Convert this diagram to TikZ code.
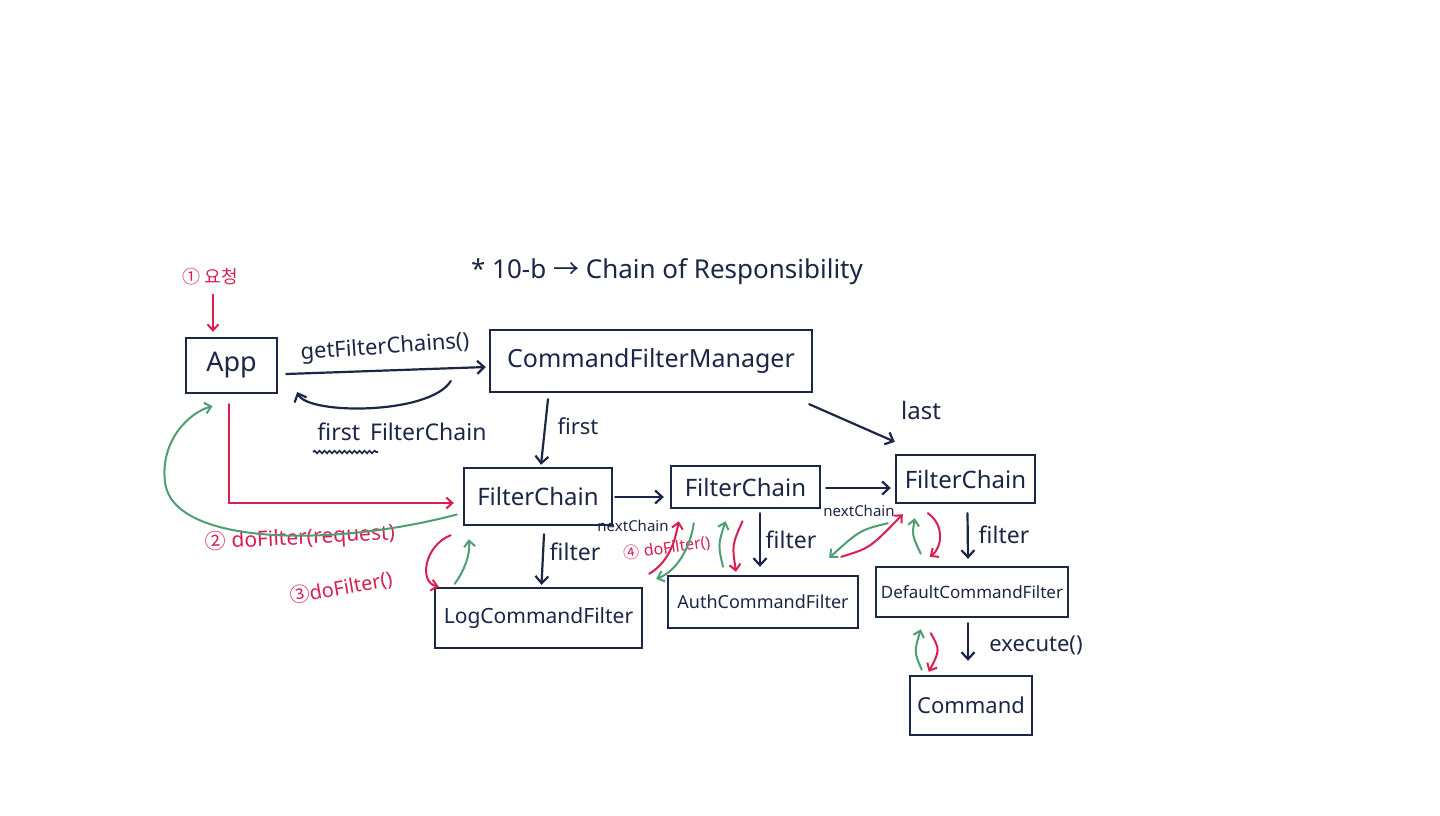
\documentclass[tikz,border=0pt]{standalone}
\usepackage{fontspec}
\setmainfont{Noto Sans}
\newfontfamily\krfont{Noto Sans CJK KR}
\usetikzlibrary{arrows.meta,calc,decorations.pathmorphing}
\definecolor{navy}{HTML}{1C2647}
\definecolor{redpen}{HTML}{D91E50}
\definecolor{greenpen}{HTML}{4E9E72}
\newcommand{\fsz}[1]{\fontsize{#1}{#1}\selectfont}
\begin{document}
\begin{tikzpicture}[x=1pt,y=-1pt,
  boxnode/.style={draw=navy, line width=2.4pt, text=navy, inner sep=0pt},
  lbl/.style={text=navy, inner sep=0pt},
  redlbl/.style={text=redpen, inner sep=0pt},
  navyarr/.style={draw=navy, line width=2.2pt, line cap=round, -{Straight Barb[length=7pt,width=13pt]}},
  redarr/.style={draw=redpen, line width=2pt, line cap=round, -{Straight Barb[length=6pt,width=11pt]}},
  greenarr/.style={draw=greenpen, line width=2pt, line cap=round, -{Straight Barb[length=6pt,width=11pt]}}]
\useasboundingbox (0,0) rectangle (1440,815);
\fill[white] (0,0) rectangle (1440,815);

% title
\node[lbl, font=\fsz{26}] (title) at (667,272) {* 10-b {\krfont→} Chain of Responsibility};

% boxes
\node[boxnode, minimum width=91pt, minimum height=55pt, font=\fsz{27}] (app) at (231.5,365.5) {App};
\node[boxnode, minimum width=322pt, minimum height=62pt, font=\fsz{25}] (cfm) at (651,361) {CommandFilterManager};
\node[boxnode, minimum width=148pt, minimum height=57pt, font=\fsz{24}] (fc1) at (538,496.5) {FilterChain};
\node[boxnode, minimum width=149pt, minimum height=42pt, font=\fsz{24}] (fc2) at (745.5,487) {FilterChain};
\node[boxnode, minimum width=139pt, minimum height=48pt, font=\fsz{24}] (fc3) at (965.5,479) {FilterChain};
\node[boxnode, minimum width=207pt, minimum height=60pt, font=\fsz{21}] (log) at (538.5,618) {LogCommandFilter};
\node[boxnode, minimum width=190pt, minimum height=52pt, font=\fsz{18}] (auth) at (763,602) {AuthCommandFilter};
\node[boxnode, minimum width=192pt, minimum height=50pt, font=\fsz{17}] (dflt) at (972,592) {DefaultCommandFilter};
\node[boxnode, minimum width=122pt, minimum height=59pt, font=\fsz{22}] (cmd) at (971,705.5) {Command};

% request
\node[redlbl, font=\krfont\fsz{18}] (req) at (210,277) {① 요청};
\draw[redarr] ($(req.south)+(3,9)$) -- ($(app.north)+(-18.5,-5)$);

% getFilterChains
\node[lbl, font=\fsz{22}, rotate=4] (getlbl) at (385,348) {getFilterChains()};
\draw[navyarr] ($(app.east)+(8,8.5)$) -- ($(cfm.west)+(-3,6)$);
\draw[navyarr] ($(cfm.west)+(-38,20)$) .. controls (430,415) and (307,415) .. ($(app.east)+(19,26.5)$);
\node[lbl, font=\fsz{23}] (firstfc) at (402,432) {first\hspace{4pt} FilterChain};
\draw[navy, line width=1.6pt, decorate, decoration={snake, amplitude=1.3pt, segment length=5pt}] (313,452) -- (378,452);

% first / last
\draw[navyarr] ($(cfm.south)+(-103,6)$) -- ($(fc1.north)+(3,-2)$);
\node[lbl, font=\fsz{22}] (firstlbl) at (578,426) {first};
\draw[navyarr] ($(cfm.south east)+(-4,11)$) -- ($(fc3.north west)+(0,-12)$);
\node[lbl, font=\fsz{24}] (lastlbl) at (921,410) {last};

% nextChain
\draw[navyarr] ($(fc1.east)+(2,0.5)$) -- ($(fc2.west)+(-6,10)$);
\node[lbl, font=\fsz{15}] (nc1) at (633,526) {nextChain};
\draw[navyarr] ($(fc2.east)+(5,1)$) -- ($(fc3.west)+(-4,9)$);
\node[lbl, font=\fsz{15}] (nc2) at (859,511) {nextChain};

% filter
\draw[navyarr] ($(fc1.south)+(6,8)$) -- ($(log.north)+(3,-2)$);
\node[lbl, font=\fsz{23}] (f1) at (575,552) {filter};
\draw[navyarr] ($(fc2.south)+(14.5,4)$) -- ($(auth.north)+(-3,-8)$);
\node[lbl, font=\fsz{23}] (f2) at (791,540) {filter};
\draw[navyarr] ($(fc3.south)+(2,9)$) -- ($(dflt.north)+(-4,-7)$);
\node[lbl, font=\fsz{23}] (f3) at (1004,535) {filter};
\draw[navyarr] ($(dflt.south)+(-4,5)$) -- ($(cmd.north)+(-3,-14)$);
\node[lbl, font=\fsz{22}] (exe) at (1036,645) {execute()};

% (2)
\draw[redarr] ($(app.south)+(-3,10)$) |- ($(fc1.west)+(-9,6.5)$);
\node[redlbl, font=\fsz{21}, rotate=3] (l2) at (300,538) {{\krfont②} doFilter(request)};
\coordinate (gbend) at (165,482);
\draw[greenarr] ($(fc1.west)+(-6,18)$) .. controls (330,548) and (172,545) .. (gbend) .. controls (160,440) and (190,412) .. ($(app.south)+(-19,12)$);

% (3)
\node[redlbl, font=\fsz{20}, rotate=10] (l3) at (341,588) {{\krfont③}doFilter()};
\draw[redarr] ($(fc1.south west)+(-12,9)$) .. controls (425,545) and (418,582) .. ($(log.north west)+(5,0)$);
\draw[greenarr] ($(log.north west)+(21,-3)$) .. controls (468,565) and (470,550) .. ($(fc1.south west)+(6,13)$);

% (4)
\node[redlbl, font=\fsz{16}, rotate=8] (l4) at (667,548) {{\krfont④} doFilter()};
\draw[redarr] ($(log.north east)+(6,-13)$) .. controls (672,560) and (676,535) .. ($(fc2.south west)+(9,12)$);
\draw[greenarr] ($(fc2.south west)+(24,14)$) .. controls (690,550) and (675,572) .. ($(log.north east)+(13,-8)$);

% FC2 <-> Auth
\draw[greenarr] ($(auth.north)+(-40,-8)$) .. controls (718,545) .. ($(fc2.south)+(-20,12)$);
\draw[redarr] ($(fc2.south)+(-3,12)$) .. controls (732,545) .. ($(auth.north)+(-27,-3)$);

% Auth <-> FC3
\draw[greenarr] ($(fc3.south west)+(-7,19)$) .. controls (860,530) .. ($(auth.north east)+(-30,-17)$);
\draw[redarr] ($(auth.north east)+(-18,-18)$) .. controls (870,548) .. ($(fc3.south west)+(8,10)$);

% FC3 <-> Default
\draw[greenarr] ($(dflt.north west)+(46,-12)$) .. controls (912,535) .. ($(fc3.south west)+(20,14)$);
\draw[redarr] ($(fc3.south west)+(33,9)$) .. controls (945,525) and (942,548) .. ($(dflt.north west)+(55,-9)$);

% Default <-> Command
\draw[greenarr] ($(cmd.north west)+(13,-5)$) .. controls (914,652) .. ($(dflt.south west)+(46,11)$);
\draw[redarr] ($(dflt.south west)+(56,15)$) .. controls (940,650) .. ($(cmd.north west)+(20,-3)$);
\end{tikzpicture}
\end{document}
